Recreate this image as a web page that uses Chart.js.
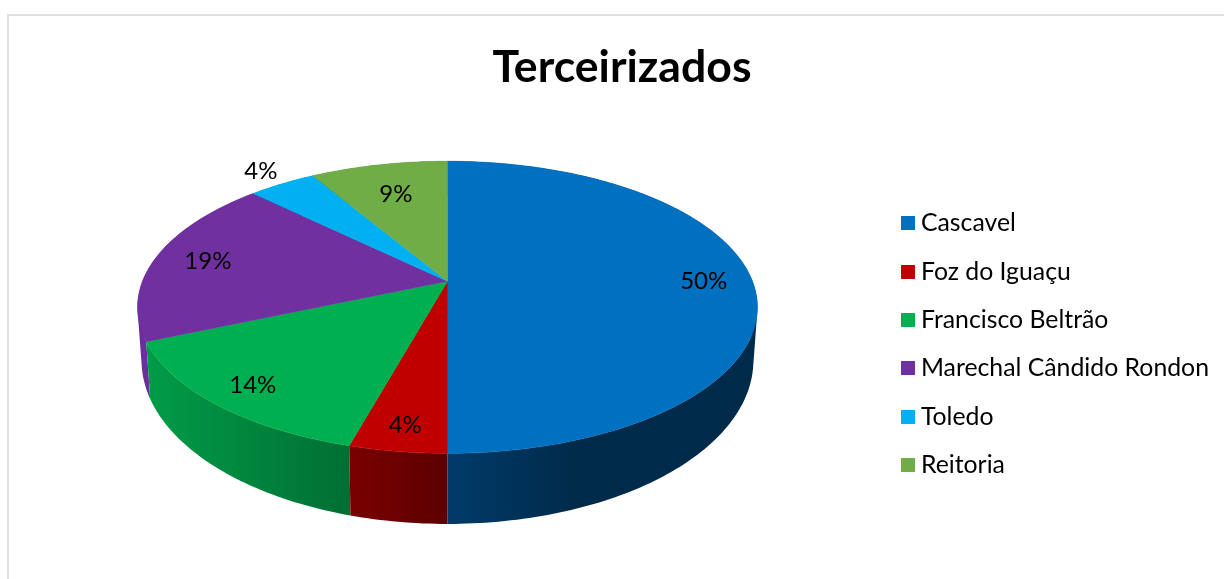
<!DOCTYPE html>
<html>
<head>
<meta charset="utf-8">
<title>Terceirizados</title>
<script src="https://cdn.jsdelivr.net/npm/chart.js@4/dist/chart.umd.js"></script>
<style>
  html, body { margin: 0; padding: 0; background: #fff; overflow: hidden; width: 1224px; height: 579px; }
  #frame { position: absolute; left: 7px; top: 14px; width: 1217px; height: 565px; border-left: 2px solid #e0e0e0; border-top: 2px solid #e0e0e0; box-sizing: border-box; }
  #wrap { position: absolute; left: 0; top: 0; width: 1244px; height: 579px; }
</style>
</head>
<body>
<div id="frame"></div>
<div id="wrap"><canvas id="chart" width="1244" height="579"></canvas></div>
<script>
const chartTitle = "Terceirizados";
const categories = ["Cascavel", "Foz do Iguaçu", "Francisco Beltrão", "Marechal Cândido Rondon", "Toledo", "Reitoria"];
const values = [50, 4.3, 14.2, 18.8, 4.2, 8.5];
const colors = ["#0070C0", "#C00000", "#00B050", "#7030A0", "#00B0F0", "#70AD47"];

// lateral da pizza: [posição da esquerda para a direita, cor]
const wallStops = [
  [[0, "#003B69"], [0.43, "#002A49"], [1, "#002A49"]],
  [[0, "#7A0000"], [1, "#5C0000"]],
  [[0, "#009C48"], [1, "#006F33"]],
  [[0, "#6C2E9C"], [1, "#6C2E9C"]],
  [[0, "#00688F"], [1, "#00688F"]],
  [[0, "#42682A"], [1, "#42682A"]]
];
// distância do rótulo ao centro (fração do raio)
const labelRadius = [0.84, 0.87, 0.86, 0.82, 1.15, 0.72];

const PIE = { shift: -7, lift: 63, rx: 305, ry: 141.4, k: 0.178, baseX: 0.987, baseY: 1.12, baseDrop: 50, step: Math.PI / 180 };

function project(arc, a, f, base) {
  const u = f * Math.cos(a), v = f * Math.sin(a), w = 1 - PIE.k * v;
  return {
    x: arc.x + PIE.shift + PIE.rx * (base ? PIE.baseX : 1) * u / w,
    y: arc.y - PIE.lift + (base ? PIE.baseDrop : 0) + PIE.ry * (base ? PIE.baseY : 1) * v / w
  };
}

function samples(a0, a1) {
  const n = Math.max(2, Math.ceil((a1 - a0) / PIE.step));
  const out = [];
  for (let i = 0; i <= n; i++) out.push(a0 + (a1 - a0) * i / n);
  return out;
}

function signedArea(q) {
  let s = 0;
  q.forEach((p, i) => {
    const n = q[(i + 1) % q.length];
    s += p.x * n.y - n.x * p.y;
  });
  return s;
}

function swatch(color) {
  const c = document.createElement("canvas");
  c.width = 14; c.height = 14;
  const g = c.getContext("2d");
  g.fillStyle = color;
  g.fillRect(0, 0, 14, 14);
  return c;
}

const pie3d = {
  id: "pie3d",
  beforeDatasetsDraw(chart) {
    const ctx = chart.ctx;
    const arcs = chart.getDatasetMeta(0).data;
    const order = arcs.map((_, i) => i).sort((p, q) =>
      Math.sin((arcs[p].startAngle + arcs[p].endAngle) / 2) - Math.sin((arcs[q].startAngle + arcs[q].endAngle) / 2));

    // lateral, de trás para a frente. Quadriláteros com a mesma orientação num só path,
    // senão a dobra da silhueta fica vazia
    order.forEach(i => {
      const arc = arcs[i];
      const angles = samples(arc.startAngle, arc.endAngle);
      const xs = angles.map(a => project(arc, a, 1, false).x);
      const grad = ctx.createLinearGradient(Math.min(...xs), 0, Math.max(...xs), 0);
      wallStops[i].forEach(s => grad.addColorStop(s[0], s[1]));
      ctx.beginPath();
      for (let j = 0; j < angles.length - 1; j++) {
        const quad = [
          project(arc, angles[j], 1, false),
          project(arc, angles[j + 1], 1, false),
          project(arc, angles[j + 1], 1, true),
          project(arc, angles[j], 1, true)
        ];
        if (signedArea(quad) < 0) quad.reverse();
        quad.forEach((p, n) => n ? ctx.lineTo(p.x, p.y) : ctx.moveTo(p.x, p.y));
        ctx.closePath();
      }
      ctx.fillStyle = grad;
      ctx.fill();
    });

    // topo
    arcs.forEach((arc, i) => {
      const apex = project(arc, 0, 0, false);
      ctx.beginPath();
      ctx.moveTo(apex.x, apex.y);
      samples(arc.startAngle, arc.endAngle).forEach(a => {
        const p = project(arc, a, 1, false);
        ctx.lineTo(p.x, p.y);
      });
      ctx.closePath();
      ctx.fillStyle = colors[i];
      ctx.strokeStyle = colors[i];
      ctx.lineWidth = 0.5;
      ctx.fill();
      ctx.stroke();
    });

    // rótulos
    ctx.fillStyle = "#000";
    ctx.font = "24px Lato";
    ctx.textAlign = "center";
    ctx.textBaseline = "middle";
    arcs.forEach((arc, i) => {
      const p = project(arc, (arc.startAngle + arc.endAngle) / 2, labelRadius[i], false);
      ctx.fillText(Math.round(values[i]) + "%", p.x, p.y);
    });
    return false;
  }
};

new Chart(document.getElementById("chart"), {
  type: "pie",
  data: {
    labels: categories,
    datasets: [{ data: values, backgroundColor: colors, borderWidth: 0 }]
  },
  plugins: [pie3d],
  options: {
    responsive: false,
    animation: false,
    layout: { padding: { left: 25, right: 25, top: 0, bottom: 0 } },
    plugins: {
      tooltip: { enabled: false },
      title: {
        display: true,
        text: chartTitle,
        color: "#000",
        font: { family: "Lato", size: 44.6, weight: "bold" },
        padding: { top: 41, bottom: 15 }
      },
      legend: {
        position: "right",
        fullSize: false,
        labels: {
          color: "#000",
          font: { family: "Lato", size: 24.8 },
          padding: 23.6,
          usePointStyle: true,
          pointStyleWidth: 1,
          generateLabels(chart) {
            return Chart.overrides.pie.plugins.legend.labels.generateLabels(chart)
              .map((item, i) => Object.assign(item, { pointStyle: swatch(colors[i]) }));
          }
        }
      }
    }
  }
});
</script>
</body>
</html>
